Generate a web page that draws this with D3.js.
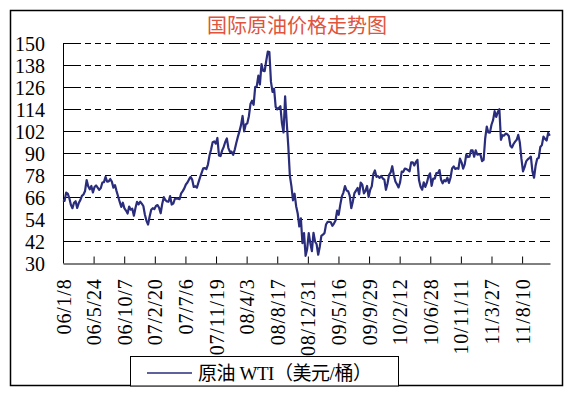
<!DOCTYPE html>
<html><head><meta charset="utf-8">
<script src="https://cdn.jsdelivr.net/npm/d3@7"></script>
<style>body{margin:0;background:#fff}</style>
</head><body>
<svg id="c" width="574" height="398"></svg>
<script>
// ---- data (weekly WTI, USD/bbl, weeks starting 2006-01-08) ----
const startDate = "2006-01-08";
const endDate = "2011-12-12";
const wti2006 = [64.2,63.9,68.4,67.8, 65.4,61.8,59.9,62.9, 63.7,60.0,62.7,64.3, 66.6,67.4,69.3,75.2,71.9, 70.2,72.0,68.5,71.4, 72.3,71.1,69.9,70.9, 73.9,74.1,77.0,74.4,74.5, 75.8,74.4,71.1,72.5, 69.2,66.3,63.3,60.6, 62.9,59.8,58.6,57.0,60.8, 59.1,59.6,55.8,60.0, 63.4,62.0,63.4,62.4,61.1];
const wti2007 = [56.3,53.0,51.0,55.4, 59.0,59.9,59.4,61.1, 61.6,60.1,57.1,62.3, 65.9,64.3,63.6,63.4,66.5, 61.9,62.4,64.9,65.2, 65.1,64.8,68.0,69.2, 70.7,72.8,73.9,75.6,77.0, 75.5,71.5,71.9,71.1, 74.0,76.7,79.1,81.6,81.7, 81.2,83.7,88.6,91.9, 95.9,96.3,95.1,98.2, 88.7,88.3,91.3,93.3,96.0];
const wti2008 = [97.9,92.7,90.6,90.7, 89.0,91.8,95.5,98.8, 101.8,105.2,110.2,101.8,105.6, 106.2,110.1,116.7,118.5, 116.3,126.0,126.3,132.2, 127.4,138.5,134.9,134.6,140.2, 145.3,145.1,128.9,123.3, 125.1,115.2,113.8,114.6,115.5, 106.2,101.2,120.9,106.9, 93.9,77.7,71.9,64.2, 67.8,61.0,57.0,49.9,54.4, 40.8,46.3,33.9,37.7];
const wti2009 = [46.3,40.8,36.5,46.5, 41.7,40.2,34.5,38.9, 44.8,45.5,46.3,51.1,52.4, 52.5,52.2,50.3,51.5, 53.2,58.6,56.3,61.7,66.3, 68.4,72.0,69.6,69.2, 66.7,59.9,63.6,68.1, 69.5,70.9,67.5,73.9,72.7, 68.0,69.3,72.0,66.0, 70.0,71.8,78.5,80.5, 77.0,77.4,76.4,77.5,76.1, 75.5,69.9,73.4,78.1];
const wti2010 = [79.4,82.8,78.0,74.5,72.9, 71.2,74.1,79.8,79.7, 81.5,81.2,80.7,80.0, 84.9,84.9,83.2,85.1, 86.2,75.1,71.6,70.0,74.0, 71.5,73.8,77.2,78.9, 72.1,76.1,76.0,79.0, 79.0,80.7,75.4,73.5,75.2, 74.6,76.5,73.7,76.5, 81.6,82.7,81.3,81.7,81.4, 86.9,84.9,81.5,83.8, 89.2,87.8,88.0,91.5];
const wti2011 = [91.4,88.0,91.5,89.1,89.3, 89.0,85.6,86.2,97.9, 104.4,101.2,101.1,105.4, 107.9,112.8,109.7,112.3, 113.9,97.2,99.7,99.5,100.6, 100.2,99.3,94.0,93.0, 94.9,96.2,97.2,99.9,95.7, 86.9,80.0,82.3,85.4, 86.5,87.2,88.0,79.9, 76.5,83.0,86.8,87.4,93.3, 94.3,99.0,97.7,96.8, 101.0,99.4];
const yTicks = [30,42,54,66,78,90,102,114,126,138,150];
const xTickLabels = ["06/1/8","06/5/24","06/10/7","07/2/20","07/7/6","07/11/19","08/4/3","08/8/17","08/12/31","09/5/16","09/9/29","10/2/12","10/6/28","10/11/11","11/3/27","11/8/10"];
const titleText = "国际原油价格走势图";
const legendText = "原油 WTI（美元/桶）";

// ---- chart ----
const svg = d3.select("#c");
const parseISO = d3.utcParse("%Y-%m-%d");
const parseTick = d3.utcParse("%y/%m/%d");
const L = 63, R = 550, T = 43, B = 263;

const x = d3.scaleUtc().domain([parseISO(startDate), parseISO(endDate)]).range([L, R]);
const y = d3.scaleLinear().domain([30, 150]).range([B, T]);

const values = [].concat(wti2006, wti2007, wti2008, wti2009, wti2010, wti2011);
const t0 = parseISO(startDate);
const series = values.map((v, i) => ({date: d3.utcDay.offset(t0, 7 * i), v}));

svg.append("rect").attr("width", 574).attr("height", 398).attr("fill", "#fff");
// outer frame
svg.append("rect").attr("x", 10.5).attr("y", 10.5).attr("width", 552).attr("height", 375)
  .attr("fill", "none").attr("stroke", "#000").attr("stroke-width", 1.5);

// title
svg.append("text").attr("x", 297).attr("y", 33).attr("text-anchor", "middle")
  .attr("font-family", "'Noto Sans CJK SC'").attr("font-size", 20).attr("fill", "#e0533d")
  .text(titleText);

// gridlines
svg.append("g").selectAll("line").data(yTicks.filter(v => v > 30)).join("line")
  .attr("x1", L).attr("x2", R)
  .attr("y1", d => Math.round(y(d)) + 0.5).attr("y2", d => Math.round(y(d)) + 0.5)
  .attr("stroke", "#000").attr("stroke-width", 1)
  .attr("stroke-dasharray", "18,4,6,4,6,4,6,5");

// y axis labels
const yAxis = svg.append("g").attr("transform", `translate(${L},0)`)
  .call(d3.axisLeft(y).tickValues(yTicks).tickSize(0).tickPadding(18).tickFormat(d3.format("d")));
yAxis.select(".domain").remove();
yAxis.selectAll("text").attr("font-family", "'Liberation Serif'").attr("font-size", 20)
  .attr("fill", "#000").attr("dy", "0.38em");
// left axis line
svg.append("line").attr("x1", L + 0.5).attr("x2", L + 0.5).attr("y1", T).attr("y2", B)
  .attr("stroke", "#000").attr("stroke-width", 1);

// x axis
const xAxis = svg.append("g").attr("transform", `translate(0,${B + 0.5})`)
  .call(d3.axisBottom(x).tickValues(xTickLabels.map(parseTick)).tickSizeInner(-7).tickSizeOuter(0)
    .tickFormat((d, i) => xTickLabels[i]));
xAxis.select(".domain").attr("stroke", "#000");
xAxis.selectAll(".tick line").attr("stroke", "#000");
xAxis.selectAll("text")
  .attr("transform", "rotate(-90)").attr("x", -15).attr("y", 0).attr("dy", "0.35em")
  .style("text-anchor", "end")
  .attr("font-family", "'Liberation Serif'").attr("font-size", 20).attr("letter-spacing", 0.8)
  .attr("fill", "#000");

// series line
const line = d3.line().x(d => x(d.date)).y(d => y(d.v));
svg.append("path").datum(series).attr("d", line)
  .attr("fill", "none").attr("stroke", "#2a2d7c").attr("stroke-width", 2.2)
  .attr("stroke-linejoin", "round");

// legend
svg.append("rect").attr("x", 130.5).attr("y", 356.5).attr("width", 268).attr("height", 29.5)
  .attr("fill", "#fff").attr("stroke", "#000").attr("stroke-width", 1);
svg.append("line").attr("x1", 147).attr("x2", 192).attr("y1", 373).attr("y2", 373)
  .attr("stroke", "#2a2d7c").attr("stroke-width", 1.5);
svg.append("text").attr("x", 198).attr("y", 380)
  .attr("font-family", "'Liberation Serif','Noto Sans CJK SC'").attr("font-size", 19).attr("fill", "#000")
  .attr("textLength", 174).attr("lengthAdjust", "spacing")
  .text(legendText);
</script>
</body></html>
